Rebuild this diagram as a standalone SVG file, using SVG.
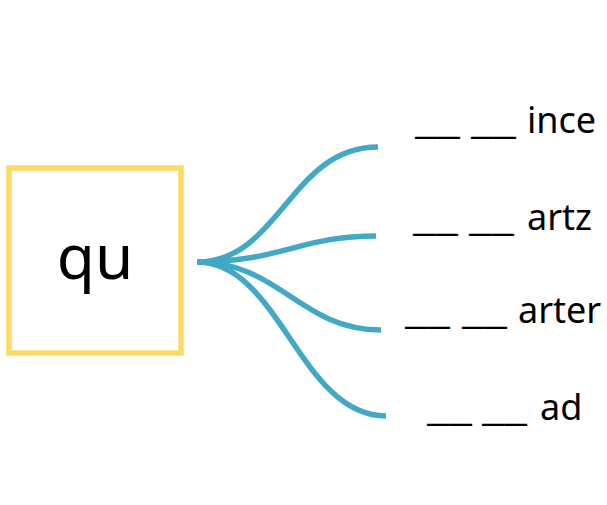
<svg xmlns="http://www.w3.org/2000/svg" width="607" height="505" viewBox="0 0 607 505">
<style>
.lbl{font-family:"Noto Sans","Liberation Sans",sans-serif;font-size:36px;fill:#000}
.conn path{fill:none;stroke:#41A8C6;stroke-width:5.5;stroke-linecap:butt}
</style>
<rect width="607" height="505" fill="#fff"/>
<g id="node-qu">
<rect x="9" y="168" width="172" height="185" fill="#fff" stroke="#FFD966" stroke-width="5.5"/>
<text x="95" y="279" text-anchor="middle" font-family="Noto Sans, Liberation Sans, sans-serif" font-size="62" fill="#000">qu</text>
</g>
<g class="conn" id="connectors">
<path d="M197,262 C280,262 290,147 378,147"/>
<path d="M197,262 C280,262 300,236 376,236"/>
<path d="M197,262 C280,262 300,330 381,330"/>
<path d="M197,262 C280,262 300,416 386,416"/>
</g>
<g id="node-ince"><text class="lbl" y="133"><tspan x="415" textLength="45" lengthAdjust="spacingAndGlyphs">__</tspan><tspan x="471" textLength="45" lengthAdjust="spacingAndGlyphs">__</tspan><tspan x="527">ince</tspan></text></g>
<g id="node-artz"><text class="lbl" y="230"><tspan x="413" textLength="45" lengthAdjust="spacingAndGlyphs">__</tspan><tspan x="469" textLength="45" lengthAdjust="spacingAndGlyphs">__</tspan><tspan x="527">artz</tspan></text></g>
<g id="node-arter"><text class="lbl" y="323"><tspan x="405" textLength="45" lengthAdjust="spacingAndGlyphs">__</tspan><tspan x="462" textLength="45" lengthAdjust="spacingAndGlyphs">__</tspan><tspan x="518">arter</tspan></text></g>
<g id="node-ad"><text class="lbl" y="420"><tspan x="427" textLength="45" lengthAdjust="spacingAndGlyphs">__</tspan><tspan x="482" textLength="45" lengthAdjust="spacingAndGlyphs">__</tspan><tspan x="540">ad</tspan></text></g>
</svg>
